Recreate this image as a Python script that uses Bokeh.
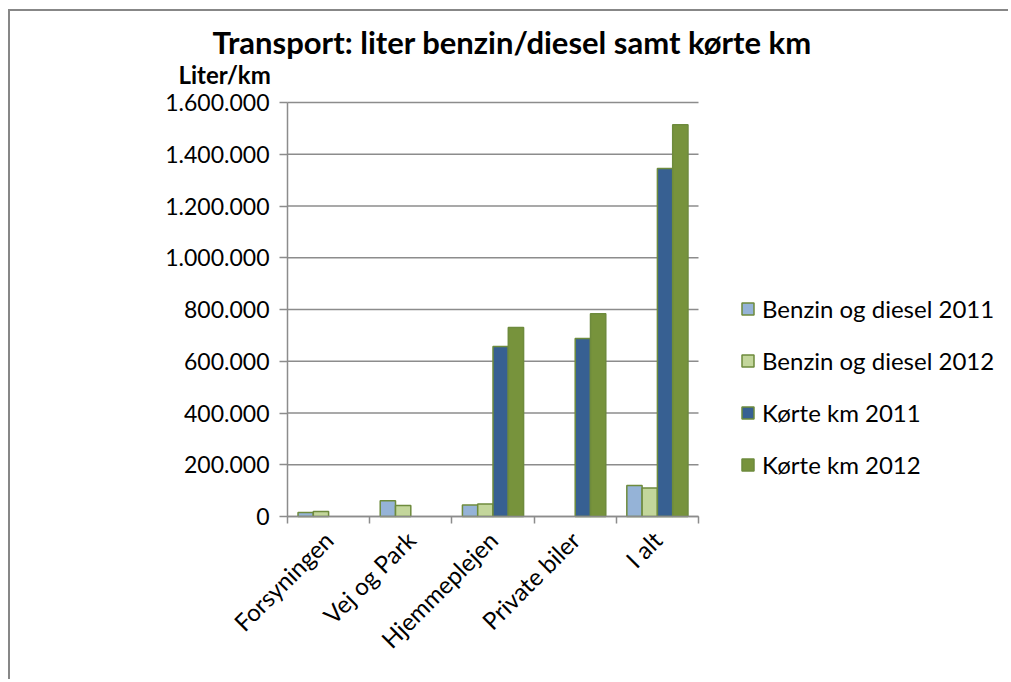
import math
from bokeh.plotting import figure
from bokeh.models import ColumnDataSource, Range1d, FixedTicker, Legend, LegendItem, Label
from bokeh.embed import file_html
from bokeh.resources import INLINE

# ---- data ----
categories = ["Forsyningen", "Vej og Park", "Hjemmeplejen", "Private biler", "I alt"]
benzin_2011 = [15500, 60500, 44000, 0, 120000]
benzin_2012 = [19500, 42500, 48000, 0, 110000]
km_2011 = [0, 0, 657000, 688000, 1345000]
km_2012 = [0, 0, 730000, 784000, 1514000]
series_names = ["Benzin og diesel 2011", "Benzin og diesel 2012", "Kørte km 2011", "Kørte km 2012"]
series_colors = ["#95B3D7", "#C3D69B", "#376092", "#77933C"]
y_ticks = [0, 200000, 400000, 600000, 800000, 1000000, 1200000, 1400000, 1600000]
y_tick_labels = ["0", "200.000", "400.000", "600.000", "800.000", "1.000.000",
                 "1.200.000", "1.400.000", "1.600.000"]
title_text = "Transport: liter benzin/diesel samt kørte km"
y_title = "Liter/km"

FONT = "Lato"
GRAY = "#8c8c8c"
OUTLINE = "#6E8B3D"

series_values = [benzin_2011, benzin_2012, km_2011, km_2012]
n_cat = len(categories)
n_ser = len(series_values)
bar_w = 0.186

# ---- layout (canvas pixels) ----
W, H = 1000, 670
ORIGIN_X, ORIGIN_Y = 277, 505      # canvas position of the data origin
PLOT_W, PLOT_H = 411, 414          # size of the plotting area
ux = n_cat / PLOT_W
uy = y_ticks[-1] / PLOT_H


def cx(px):
    return (px - ORIGIN_X) * ux


def cy(py):
    return (ORIGIN_Y - py) * uy


p = figure(width=W, height=H,
           x_range=Range1d(cx(0), cx(W)), y_range=Range1d(cy(H), cy(0)),
           output_backend="svg", toolbar_location=None, title=None,
           min_border_left=0, min_border_right=0, min_border_top=0, min_border_bottom=0)
p.styles = {"margin-left": "8px", "margin-top": "9px",
            "border-left": "2px solid #878787", "border-top": "2px solid #878787"}
p.outline_line_color = None
p.background_fill_color = "white"
p.border_fill_color = "white"

# horizontal gridlines restricted to the category area
grid = p.segment(x0=[0] * len(y_ticks), x1=[n_cat] * len(y_ticks), y0=y_ticks, y1=y_ticks,
                 line_color=GRAY, line_width=1.5)
grid.level = "underlay"
p.xgrid.visible = False
p.ygrid.visible = False

legend_items = []
for k, (vals, name, col) in enumerate(zip(series_values, series_names, series_colors)):
    xs = [i + 0.5 + (k - (n_ser - 1) / 2) * bar_w for i, v in enumerate(vals) if v > 0]
    tops = [v for v in vals if v > 0]
    src = ColumnDataSource(dict(x=xs, top=tops))
    r = p.vbar(x="x", top="top", width=bar_w, bottom=0, source=src,
               fill_color=col, line_color=OUTLINE, line_width=1.5)
    legend_items.append(LegendItem(label=name, renderers=[r]))

# x axis
xa = p.xaxis[0]
xa.fixed_location = 0
xa.bounds = (0, n_cat)
xa.ticker = FixedTicker(ticks=[i + 0.5 for i in range(n_cat)], minor_ticks=list(range(n_cat + 1)))
xa.major_label_overrides = {i + 0.5: c for i, c in enumerate(categories)}
xa.major_tick_line_color = None
xa.minor_tick_out = 7
xa.minor_tick_in = 0
xa.minor_tick_line_color = GRAY
xa.minor_tick_line_width = 1.5
xa.axis_line_color = GRAY
xa.axis_line_width = 1.5
xa.major_label_orientation = math.pi / 4
xa.major_label_text_font = FONT
xa.major_label_text_font_size = "24px"
xa.major_label_text_color = "black"
xa.major_label_standoff = 12

# y axis
ya = p.yaxis[0]
ya.fixed_location = 0
ya.bounds = (0, y_ticks[-1])
ya.ticker = FixedTicker(ticks=y_ticks)
ya.major_label_overrides = {t: l for t, l in zip(y_ticks, y_tick_labels)}
ya.major_tick_out = 8
ya.major_tick_in = 0
ya.major_tick_line_color = GRAY
ya.major_tick_line_width = 1.5
ya.minor_tick_line_color = None
ya.axis_line_color = GRAY
ya.axis_line_width = 1.5
ya.major_label_text_font = FONT
ya.major_label_text_font_size = "23px"
ya.major_label_text_color = "black"
ya.major_label_standoff = 10

legend = Legend(items=legend_items, location=(730, 202), orientation="vertical",
                glyph_width=15, glyph_height=15, label_standoff=7,
                label_height=29, spacing=23, padding=0, margin=0,
                border_line_color=None, background_fill_alpha=0,
                label_text_font=FONT, label_text_font_size="24px", label_text_color="black")
p.add_layout(legend)

p.add_layout(Label(x=cx(202), y=cy(30), text=title_text,
                   text_align="left", text_baseline="alphabetic", text_font=FONT,
                   text_font_size="31px", text_font_style="bold", text_color="black"))
p.add_layout(Label(x=cx(168), y=cy(63), text=y_title,
                   text_align="left", text_baseline="alphabetic", text_font=FONT,
                   text_font_size="24px", text_font_style="bold", text_color="black"))

open("out.html", "w").write(file_html(p, INLINE))
